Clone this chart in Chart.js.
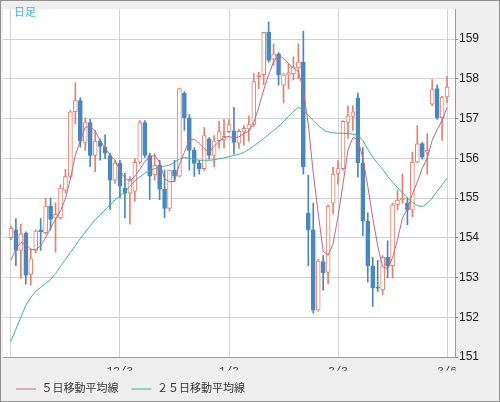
<!DOCTYPE html>
<html>
<head>
<meta charset="utf-8">
<script src="https://cdn.jsdelivr.net/npm/chart.js@4.4.1/dist/chart.umd.min.js"></script>
<style>
  html, body { margin: 0; padding: 0; background: #fff; }
  #wrap { position: relative; width: 500px; height: 402px; box-sizing: border-box; border: 1px solid #8f8f8f; background: #efefef; }
  #wrap canvas { display: block; }
  #ashi { position: absolute; left: 13px; top: 2px; font: 11px "Noto Sans CJK JP", sans-serif; color: #3cb4dc; }
</style>
</head>
<body>
<div id="wrap">
  <canvas id="chart" width="498" height="400" style="width:498px;height:400px"></canvas>
  <div id="ashi">日足</div>
</div>
<script>
// x ticks (candle index -> date label)
const tickIndex = [0, 22, 44, 66, 88];
const tickLabels = ['', '12/3', '1/2', '2/3', '3/6'];
const yTicks = [151, 152, 153, 154, 155, 156, 157, 158, 159];

// daily candles
const opens = [
  154.00,154.20,153.68,154.12,153.08,153.68,154.20,154.13,154.80,154.50,
  154.50,155.20,155.54,157.17,157.45,156.40,156.90,156.07,156.43,156.28,
  156.07,155.45,155.88,155.25,155.12,155.17,155.90,156.90,156.07,155.58,
  155.83,155.22,154.74,155.70,155.55,157.64,157.02,156.20,155.87,155.74,
  156.49,156.07,156.44,156.46,156.67,156.69,156.38,156.66,156.74,156.85,
  158.05,158.10,159.17,158.49,158.63,157.84,158.09,158.13,158.27,158.42,
  154.62,154.20,152.18,153.40,153.13,154.87,155.62,155.74,156.90,157.05,
  157.52,155.88,154.42,153.29,152.75,152.69,153.51,153.30,154.83,154.95,
  154.87,154.70,155.90,156.37,156.15,157.36,157.75,157.02,157.54
];
const highs = [
  154.30,154.48,154.34,154.15,153.72,154.20,154.48,155.00,155.00,154.88,
  155.33,155.72,157.20,157.90,157.52,157.02,156.98,156.70,156.49,156.59,
  156.13,155.95,155.95,155.62,155.54,155.98,156.95,156.95,156.13,156.12,
  155.95,155.70,155.70,155.95,157.75,157.68,157.10,156.27,155.95,156.77,
  156.52,156.57,156.93,156.97,156.97,157.28,156.73,156.82,157.06,158.13,
  158.16,159.17,159.43,158.88,158.66,158.13,158.38,158.55,158.88,159.20,
  155.57,154.87,153.46,153.55,154.83,155.77,155.94,156.95,157.32,157.32,
  157.64,156.27,154.63,153.51,153.43,153.55,153.92,154.87,155.20,155.60,
  155.00,156.15,156.82,156.40,156.62,157.98,157.85,157.56,158.06
];
const lows = [
  153.95,153.30,152.98,152.83,152.81,153.62,153.68,154.09,154.20,153.64,
  154.46,155.12,155.50,156.86,156.28,156.20,155.79,155.66,155.95,155.99,
  154.71,155.37,155.00,154.50,154.34,154.92,155.86,156.02,154.96,155.45,
  154.96,154.50,154.67,155.41,155.53,156.70,155.70,155.54,155.60,155.70,
  155.98,155.78,156.25,156.26,156.64,156.10,156.25,156.33,156.43,156.80,
  157.75,157.85,158.42,158.34,157.84,157.39,157.75,157.97,158.00,155.60,
  153.30,152.10,152.15,152.68,152.84,154.60,155.35,155.70,156.50,156.70,
  155.53,154.05,152.88,152.27,152.65,152.56,152.99,152.99,154.70,154.87,
  154.33,154.53,155.88,155.98,155.60,157.32,156.98,156.45,157.40
];
const closes = [
  154.24,153.68,154.10,153.06,153.47,154.17,154.15,154.80,154.46,154.59,
  155.25,155.54,157.17,157.45,156.43,156.90,156.07,156.43,156.30,156.13,
  155.45,155.88,155.30,155.12,155.47,155.90,156.90,156.07,155.55,155.83,
  155.22,154.74,155.70,155.55,157.75,157.02,156.20,155.87,155.74,156.57,
  156.07,156.44,156.67,156.55,156.85,156.40,156.68,156.75,156.85,157.93,
  158.10,159.17,158.46,158.63,158.09,158.10,158.15,158.30,158.42,155.78,
  154.20,152.18,153.42,153.12,154.80,155.60,155.74,156.93,157.07,157.17,
  155.88,154.42,153.30,152.74,152.73,153.51,153.30,154.83,154.95,155.00,
  154.70,155.90,156.36,156.03,156.20,157.73,157.02,157.54,157.79
];

// moving averages as drawn
const ma5 = [
  153.43,153.72,153.88,153.84,153.71,153.70,153.80,154.00,154.25,154.46,
  154.68,154.98,155.48,156.08,156.45,156.78,156.80,156.68,156.45,156.25,
  156.08,155.95,155.70,155.50,155.42,155.55,155.72,155.92,156.02,156.08,
  155.90,155.48,155.41,155.42,155.85,156.15,156.46,156.48,156.37,156.24,
  156.15,156.30,156.42,156.52,156.55,156.50,156.54,156.62,156.68,156.90,
  157.28,157.72,158.10,158.42,158.58,158.52,158.38,158.27,158.18,157.72,
  156.85,155.62,154.62,153.66,153.56,153.85,154.54,155.35,156.20,156.52,
  156.48,156.00,155.30,154.50,153.80,153.27,153.22,153.50,153.95,154.50,
  154.72,155.10,155.40,155.75,156.00,156.45,156.72,156.95,157.28
];
const ma25 = [
  151.40,151.70,152.00,152.30,152.50,152.65,152.75,152.85,152.95,153.10,
  153.28,153.45,153.63,153.80,153.98,154.14,154.30,154.45,154.57,154.70,
  154.82,154.95,155.05,155.15,155.30,155.43,155.53,155.62,155.69,155.74,
  155.77,155.80,155.83,155.90,155.98,156.02,156.00,155.97,155.95,155.95,
  155.95,155.96,155.99,156.01,156.04,156.07,156.10,156.15,156.22,156.31,
  156.40,156.50,156.60,156.70,156.80,156.92,157.05,157.18,157.28,157.22,
  157.08,156.95,156.82,156.72,156.66,156.64,156.63,156.63,156.62,156.61,
  156.57,156.45,156.22,156.03,155.87,155.72,155.55,155.40,155.26,155.13,
  155.00,154.90,154.81,154.78,154.86,155.00,155.17,155.33,155.50
];

const upColor = '#e0826f';
const downColor = '#4a87bf';
const isUp = closes.map((c, i) => c >= opens[i]);

const wicks = lows.map((l, i) => ({ x: i, y: [l, highs[i]] }));
const bodies = opens.map((o, i) => ({ x: i, y: [o, closes[i]] }));
const toPoints = arr => arr.map((v, i) => ({ x: i, y: v }));

const font = '"Liberation Sans", "Noto Sans CJK JP", sans-serif';
const monoFont = '"Liberation Mono", "DejaVu Sans Mono", monospace';

const plotBg = {
  id: 'plotBg',
  beforeDraw(chart) {
    const a = chart.chartArea;
    const ctx = chart.ctx;
    ctx.save();
    ctx.fillStyle = '#ffffff';
    ctx.fillRect(a.left, a.top, a.right - a.left, a.bottom - a.top);
    ctx.restore();
  }
};

new Chart(document.getElementById('chart'), {
  type: 'bar',
  data: {
    datasets: [
      {
        label: 'wick',
        data: wicks,
        backgroundColor: isUp.map(u => u ? upColor : downColor),
        barThickness: 1,
        grouped: false,
        order: 2
      },
      {
        label: 'body',
        data: bodies,
        backgroundColor: isUp.map(u => u ? '#ffffff' : downColor),
        borderColor: isUp.map(u => u ? upColor : downColor),
        borderWidth: 1,
        borderSkipped: false,
        barThickness: 4,
        grouped: false,
        order: 1
      },
      {
        type: 'line',
        label: '５日移動平均線',
        data: toPoints(ma5),
        borderColor: '#c0678f',
        backgroundColor: '#c0678f',
        borderWidth: 1,
        pointRadius: 0,
        pointStyle: 'line',
        tension: 0,
        order: 0
      },
      {
        type: 'line',
        label: '２５日移動平均線',
        data: toPoints(ma25),
        borderColor: '#3fb68c',
        backgroundColor: '#3fb68c',
        borderWidth: 1,
        pointRadius: 0,
        pointStyle: 'line',
        tension: 0,
        order: 0
      }
    ]
  },
  options: {
    responsive: false,
    animation: false,
    layout: { padding: { left: 2, top: 2, right: 0, bottom: -3.5 } },
    plugins: {
      tooltip: { enabled: false },
      legend: {
        position: 'bottom',
        align: 'start',
        labels: {
          filter: item => item.datasetIndex >= 2,
          usePointStyle: true,
          pointStyleWidth: 20,
          padding: 13,
          color: '#333',
          font: { family: font, size: 11 }
        }
      }
    },
    scales: {
      x: {
        type: 'linear',
        offset: false,
        min: -1.6,
        max: 89.6,
        afterBuildTicks: scale => { scale.ticks = tickIndex.map(v => ({ value: v })); },
        afterFit: scale => { scale.height = 13.5; },
        ticks: {
          autoSkip: false,
          maxRotation: 0,
          padding: 7,
          color: '#333',
          font: { family: monoFont, size: 11 },
          callback: v => { const k = tickIndex.indexOf(v); return k >= 0 ? tickLabels[k] : ''; }
        },
        grid: { offset: false, color: '#d2d2d2', drawTicks: false },
        border: { color: '#999' }
      },
      y: {
        position: 'right',
        min: 151,
        max: 159.75,
        afterBuildTicks: scale => { scale.ticks = yTicks.map(v => ({ value: v })); },
        afterFit: scale => { scale.width = 44; },
        ticks: {
          padding: 1,
          color: '#222',
          font: { family: font, size: 12 }
        },
        grid: { color: '#d2d2d2', tickLength: 3, tickColor: '#888' },
        border: { color: '#999' }
      }
    }
  },
  plugins: [plotBg]
});
</script>
</body>
</html>
